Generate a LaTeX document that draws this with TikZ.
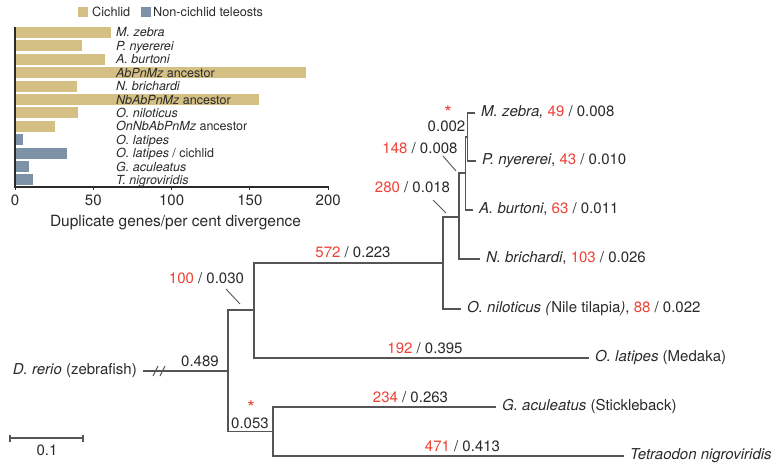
\documentclass[tikz,border=0pt]{standalone}
\usepackage{fontspec}
\setmainfont{TeX Gyre Heros}
\definecolor{lineg}{HTML}{555555}
\definecolor{txt}{HTML}{2A2A2A}
\definecolor{redn}{HTML}{EE4136}
\definecolor{tanc}{HTML}{D4C084}
\definecolor{slatec}{HTML}{7D92A7}
\newcommand\rednum[1]{\textcolor{redn}{#1}}
\begin{document}
\begin{tikzpicture}[x=1pt,y=-1pt,
  tree/.style={draw=lineg, line width=1.4pt},
  leader/.style={draw=lineg, line width=0.9pt},
  leaf/.style={anchor=west, inner xsep=6pt, inner ysep=0pt, text height=10.8pt, text depth=3pt, font=\fontsize{15}{18}\selectfont, text=txt},
  lbl/.style={anchor=base, inner sep=0pt, font=\fontsize{15}{18}\selectfont, text=txt},
  startxt/.style={anchor=center, inner sep=0pt, font=\fontsize{19}{20}\selectfont, text=redn},
  barlbl/.style={anchor=west, inner sep=0pt, text height=9pt, text depth=0pt, font=\fontsize{12.5}{15}\selectfont, text=txt},
  ticklbl/.style={anchor=base, inner sep=0pt, font=\fontsize{15}{18}\selectfont, text=txt},
  legtxt/.style={anchor=base west, inner sep=0pt, font=\fontsize{12.7}{15}\selectfont, text=txt}
]
\useasboundingbox (0,0) rectangle (783,468);

% ---------- bar chart ----------
\fill[tanc] (78,7) rectangle (88,17);
\node[legtxt] (lcich) at (92,16.5) {Cichlid};
\fill[slatec] (141,7) rectangle (151,17);
\node[legtxt] (lnon) at (153,16.5) {Non-cichlid teleosts};

\foreach \v/\c [count=\i from 0] in {61/tanc,43/tanc,57.5/tanc,186/tanc,39.6/tanc,156/tanc,40/tanc,25.5/tanc,5/slatec,33/slatec,9/slatec,11.5/slatec}
  \fill[\c] (16,{32.5+13.4*\i-5.5}) rectangle ({15+1.566*\v},{32.5+13.4*\i+5.5});

\node[barlbl] (b1) at (116,32.5) {\textit{M. zebra}};
\node[barlbl] (b2) at (116,45.9) {\textit{P. nyererei}};
\node[barlbl] (b3) at (116,59.3) {\textit{A. burtoni}};
\node[barlbl] (b4) at (116,72.7) {\textit{AbPnMz} ancestor};
\node[barlbl] (b5) at (116,86.1) {\textit{N. brichardi}};
\node[barlbl] (b6) at (116,99.5) {\textit{NbAbPnMz} ancestor};
\node[barlbl] (b7) at (116,112.9) {\textit{O. niloticus}};
\node[barlbl] (b8) at (116,126.3) {\textit{OnNbAbPnMz} ancestor};
\node[barlbl] (b9) at (116,139.7) {\textit{O. latipes}};
\node[barlbl] (b10) at (116,153.1) {\textit{O. latipes} / cichlid};
\node[barlbl] (b11) at (116,166.5) {\textit{G. aculeatus}};
\node[barlbl] (b12) at (116,179.9) {\textit{T. nigroviridis}};

\draw[draw=txt, line width=1.2pt] (15,187) -- (329,187);
\foreach \k/\t in {0/0,1/50,2/100,3/150,4/200} {
  \draw[draw=txt, line width=1pt] ({15+78.3*\k},187) -- ({15+78.3*\k},190);
  \node[ticklbl] at ({15+78.3*\k},205) {\t};
}
\draw[draw=txt, line width=2.2pt] (15,27) -- (15,188);
\node[anchor=base, inner sep=0pt, font=\fontsize{15.5}{18}\selectfont, text=txt] (xt) at (175.5,226) {Duplicate genes/per cent divergence};

% ---------- tree ----------
\coordinate (R) at (228,371);
\coordinate (A) at (254,310);
\coordinate (B) at (273,431.5);
\coordinate (C) at (443,263);
\coordinate (D) at (459,217);
\coordinate (E) at (465.5,173);
\coordinate (F) at (467.5,137);

\node[leaf] (mz) at (475,113) {\textit{M. zebra,} \rednum{49} / 0.008};
\node[leaf] (pn) at (476,161) {\textit{P. nyererei}, \rednum{43} / 0.010};
\node[leaf] (ab) at (473,210) {\textit{A. burtoni}, \rednum{63} / 0.011};
\node[leaf] (nb) at (480,259) {\textit{N. brichardi}, \rednum{103} / 0.026};
\node[leaf] (on) at (461,309) {\textit{O. niloticus (}Nile tilapia\textit{)}, \rednum{88} / 0.022};
\node[leaf] (ol) at (589,358) {\textit{O. latipes} (Medaka)};
\node[leaf] (ga) at (496,407) {\textit{G. aculeatus} (Stickleback)};
\node[leaf] (tn) at (624,456) {\textit{Tetraodon nigroviridis}};
\node[leaf, anchor=east] (dr) at (143,371) {\textit{D. rerio} (zebrafish)};

\draw[tree] (dr.east) -- (R);
\draw[tree] (A) -| (R);
\draw[tree] (B) -| (R);
\draw[tree] (C) -| (A);
\draw[tree] (ol.west) -| (A);
\draw[tree] (D) -| (C);
\draw[tree] (on.west) -| (C);
\draw[tree] (E) -| (D);
\draw[tree] (nb.west) -| (D);
\draw[tree] (F) -| (E);
\draw[tree] (ab.west) -| (E);
\draw[tree] (mz.west) -| (F);
\draw[tree] (pn.west) -| (F);
\draw[tree] (ga.west) -| (B);
\draw[tree] (tn.west) -| (B);

% break marks
\draw[tree, line width=1.1pt] (153,376) -- (158,366);
\draw[tree, line width=1.1pt] (160,376) -- (165,366);

% branch labels
\node[lbl] (l572) at (353,257) {\rednum{572} / 0.223};
\node[lbl] (l192) at (425,353) {\rednum{192} / 0.395};
\node[lbl] (l234) at (410.5,402) {\rednum{234} / 0.263};
\node[lbl] (l471) at (462.5,451) {\rednum{471} / 0.413};
\node[lbl] (l100) at (206.5,283) {\rednum{100} / 0.030};
\node[lbl] (l489) at (200,366) {0.489};
\node[lbl] (l053) at (250,428) {0.053};
\node[lbl] (l280) at (412.5,192) {\rednum{280} / 0.018};
\node[lbl] (l148) at (420,153) {\rednum{148} / 0.008};
\node[lbl] (l002) at (446.5,131) {0.002};
\node[startxt] (s1) at (448,112.5) {\raisebox{-10.9pt}{*}};
\node[startxt] (s2) at (251,408) {\raisebox{-10.9pt}{*}};

% leaders
\coordinate (p100a) at (226,289); \coordinate (p100b) at (240,304);
\coordinate (p280a) at (433,200); \coordinate (p280b) at (446,213);
\coordinate (p148a) at (443,156); \coordinate (p148b) at (456,171);
\draw[leader] (p100a) -- (p100b);
\draw[leader] (p280a) -- (p280b);
\draw[leader] (p148a) -- (p148b);

% scale bar
\coordinate (sb1) at (10,438); \coordinate (sb2) at (83,438);
\draw[tree] (sb1) -- (sb2);
\draw[tree] (10,434.5) -- (10,441.5);
\draw[tree] (83,434.5) -- (83,441.5);
\node[lbl] (sbl) at (47,455) {0.1};
\end{tikzpicture}
\end{document}
